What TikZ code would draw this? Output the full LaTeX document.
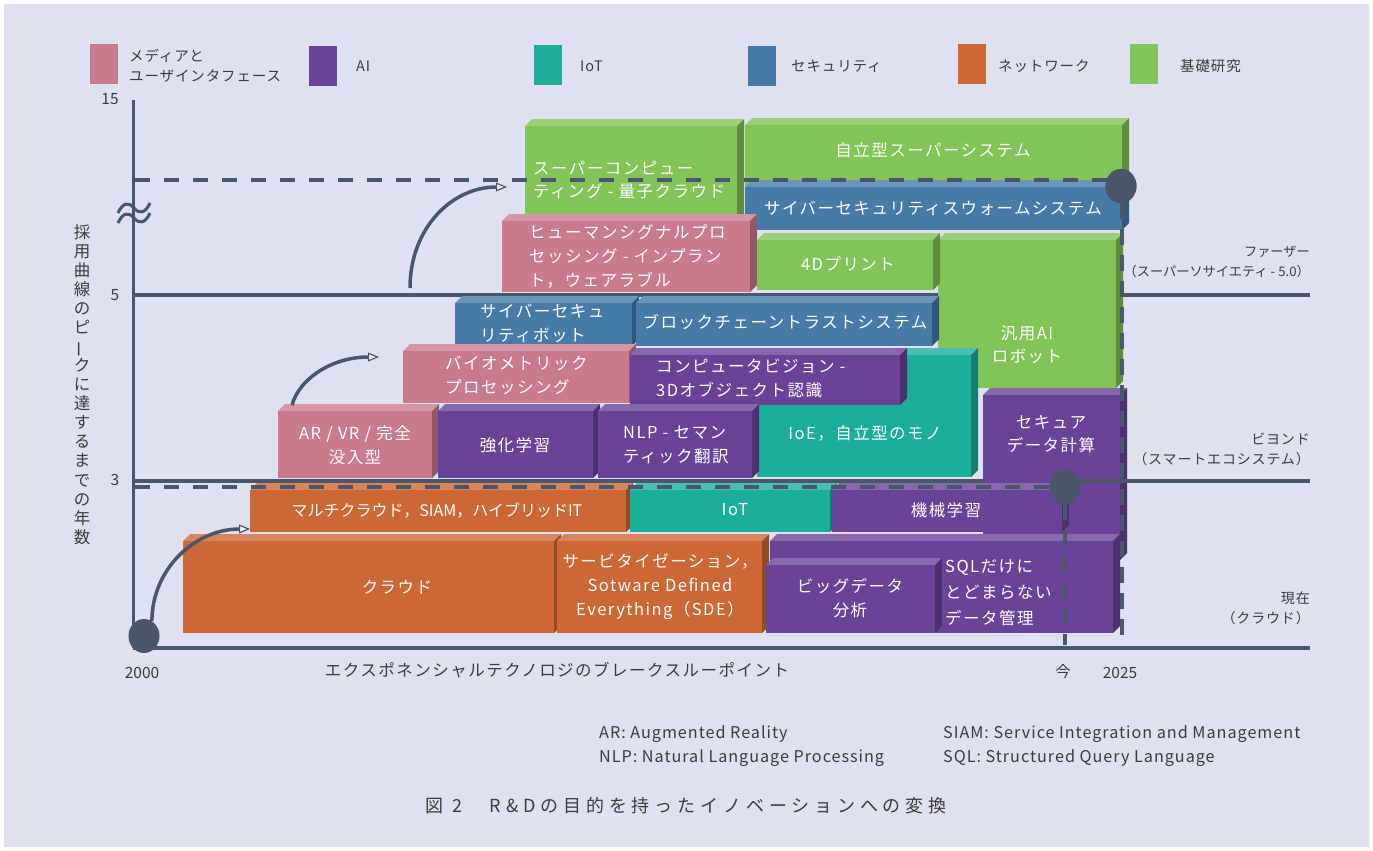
\documentclass[tikz,border=0pt]{standalone}
\usepackage{fontspec}
\usepackage{graphicx}
\setmainfont{Noto Sans CJK JP}[LetterSpace=6]
\newfontfamily\bfont{Noto Sans CJK JP}[LetterSpace=9]
\newfontfamily\tfont{Noto Sans CJK JP}
\newfontfamily\capfont{Noto Sans CJK JP}[LetterSpace=27]
\usetikzlibrary{arrows.meta,shapes.geometric}
\definecolor{bg}{RGB}{223,225,240}
\definecolor{cpink}{RGB}{201,123,142}
\definecolor{cpurple}{RGB}{104,67,152}
\definecolor{cteal}{RGB}{28,174,157}
\definecolor{cblue}{RGB}{72,122,168}
\definecolor{corange}{RGB}{204,104,53}
\definecolor{cgreen}{RGB}{130,196,88}
\definecolor{cline}{RGB}{74,86,105}
\definecolor{ctext}{RGB}{60,60,60}
\def\dep{7}
\newcommand{\blk}[6]{%
  \fill[#2!80!white] (#3,#4) -- ({#3+\dep},{#4-\dep}) -- ({#5+\dep},{#4-\dep}) -- (#5,#4) -- cycle;
  \fill[#2!72!black] (#5,#4) -- ({#5+\dep},{#4-\dep}) -- ({#5+\dep},{#6-\dep}) -- (#5,#6) -- cycle;
  \node[fill=#2, draw=none, inner sep=0pt, outer sep=0pt, minimum width={(#5-#3)*1pt}, minimum height={(#6-#4)*1pt}] (#1) at ({(#3+#5)/2},{(#4+#6)/2}) {};
}
\tikzset{
  btext/.style={text=white, font={\bfont\fontsize{16.5}{24}\selectfont}, inner sep=0pt, align=center},
  bltext/.style={btext, align=left, anchor=west},
  lab/.style={text=ctext, inner sep=0pt, font={\fontsize{15}{18}\selectfont}},
  numlab/.style={text=ctext, inner sep=0pt, font={\tfont\fontsize{15.5}{18}\selectfont}},
  rlab/.style={text=ctext, inner sep=0pt, anchor=east, align=right, font={\fontsize{14}{20}\selectfont}},
  axisline/.style={cline, line width=4pt},
  hdash/.style={cline, line width=4pt, dash pattern=on 15pt off 14pt},
  vdash/.style={cline, line width=3.5pt, dash pattern=on 16pt off 10pt},
  arr/.style={cline, line width=3.5pt, -{Triangle[length=11pt,width=9pt,fill=bg!40!white,line width=1.2pt]}},
  dot/.style={ellipse, fill=cline, minimum width=31pt, minimum height=34pt, inner sep=0pt},
  legbox/.style={minimum width=28pt, minimum height=39pt, inner sep=0pt},
}
\begin{document}
\begin{tikzpicture}[x=1pt,y=-1pt]
\useasboundingbox (0,0) rectangle (1373,851);
\fill[white] (0,0) rectangle (1373,851);
\fill[bg] (4,4) rectangle (1369,847);

% legend
\node[legbox, fill=cpink] (lg1) at (104,64) {};
\node[lab, anchor=west, align=left, font={\fontsize{14.5}{20.5}\selectfont}] (lg1t) at (129,66) {メディアと\\ユーザインタフェース};
\node[legbox, fill=cpurple] (lg2) at (323,66) {};
\node[lab, anchor=west, font={\fontsize{14.5}{18}\selectfont}] (lg2t) at (356,66) {AI};
\node[legbox, fill=cteal] (lg3) at (548,65) {};
\node[lab, anchor=west, font={\fontsize{14.5}{18}\selectfont}] (lg3t) at (580,66) {IoT};
\node[legbox, fill=cblue] (lg4) at (762,66) {};
\node[lab, anchor=west, font={\fontsize{14.5}{18}\selectfont}] (lg4t) at (791,66) {セキュリティ};
\node[legbox, fill=corange] (lg5) at (972,64) {};
\node[lab, anchor=west, font={\fontsize{14.5}{18}\selectfont}] (lg5t) at (998,66) {ネットワーク};
\node[legbox, fill=cgreen] (lg6) at (1144,64) {};
\node[lab, anchor=west, font={\fontsize{14.5}{18}\selectfont}] (lg6t) at (1180,66) {基礎研究};

% axes and level lines (behind blocks)
\coordinate (ax0) at (133,648);
\coordinate (axtop) at (133,100);
\coordinate (axend) at (1310,648);
\coordinate (l5s) at (133,295);
\coordinate (l5e) at (1310,295);
\coordinate (l3s) at (133,481);
\coordinate (l3e) at (1310,481);
\draw[cline, line width=3pt] (axtop) -- (ax0);
\draw[axisline] (ax0) -- (axend);
\draw[axisline] (l5s) -- (l5e);
\draw[axisline] (l3s) -- (l3e);
% break mark
\draw[cline, line width=3pt] (118,213) .. controls (123,202) and (129,202) .. (134,208) .. controls (139,214) and (145,214) .. (150,203);
\draw[cline, line width=3pt] (118,223) .. controls (123,212) and (129,212) .. (134,218) .. controls (139,224) and (145,224) .. (150,213);

% blocks, back to front
\blk{sc}{cgreen}{525}{126}{737}{222}
\blk{jiritsu}{cgreen}{745}{125}{1122}{186}
\blk{swarm}{cblue}{745}{187}{1122}{230}
\blk{human}{cpink}{502}{221}{750}{292}
\blk{hanyo}{cgreen}{938}{240}{1116}{388}
\blk{fourd}{cgreen}{757}{240}{933}{290}
\blk{cbot}{cblue}{455}{303}{632}{346}
\blk{bchain}{cblue}{636}{303}{932}{346}
\blk{secure}{cpurple}{983}{395}{1120}{560}
\blk{ioe}{cteal}{757}{355}{971}{477}
\blk{bio}{cpink}{403}{351}{629}{403}
\blk{cv}{cpurple}{630}{355}{900}{405}
\blk{ar}{cpink}{278}{411}{432}{478}
\blk{kyoka}{cpurple}{438}{411}{593}{478}
\blk{nlp}{cpurple}{598}{411}{752}{478}
\blk{multi}{corange}{250}{490}{626}{532}
\blk{iot}{cteal}{630}{490}{830}{532}
\blk{ml}{cpurple}{832}{490}{1062}{532}
\blk{cloud}{corange}{183}{541}{554}{633}
\blk{servi}{corange}{557}{541}{762}{633}
\blk{sql}{cpurple}{770}{541}{1113}{633}
\blk{bigdata}{cpurple}{766}{565}{935}{633}

% block texts
\node[bltext] (sc-t) at (533,180) {スーパーコンピュー\\ティング - 量子クラウド};
\node[btext] (jiritsu-t) at (933,150) {自立型スーパーシステム};
\node[btext] (swarm-t) at (933,208) {サイバーセキュリティスウォームシステム};
\node[bltext] (human-t) at (529,256) {ヒューマンシグナルプロ\\セッシング - インプラン\\ト，ウェアラブル};
\node[btext] (fourd-t) at (848,264) {4Dプリント};
\node[btext, font={\bfont\fontsize{16.5}{23}\selectfont}] (hanyo-t) at (1027,345) {汎用AI\\ロボット};
\node[bltext] (cbot-t) at (480,323) {サイバーセキュ\\リティボット};
\node[btext] (bchain-t) at (785,322) {ブロックチェーントラストシステム};
\node[btext, font={\bfont\fontsize{16.5}{23}\selectfont}] (secure-t) at (1051,434) {セキュア\\データ計算};
\node[btext] (ioe-t) at (865,433) {IoE，自立型のモノ};
\node[bltext] (bio-t) at (445,375) {バイオメトリック\\プロセッシング};
\node[bltext] (cv-t) at (656,378) {コンピュータビジョン -\\3Dオブジェクト認識};
\node[btext] (ar-t) at (355,445) {AR / VR / 完全\\没入型};
\node[btext] (kyoka-t) at (515,445) {強化学習};
\node[bltext] (nlp-t) at (623,445) {NLP - セマン\\ティック翻訳};
\node[btext, font={\tfont\fontsize{16}{24}\selectfont}] (multi-t) at (437,510) {マルチクラウド，SIAM，ハイブリッドIT};
\node[btext] (iot-t) at (735,510) {IoT};
\node[btext] (ml-t) at (946,510) {機械学習};
\node[btext] (cloud-t) at (397,587) {クラウド};
\node[btext] (servi-t) at (660,587) {サービタイゼーション，\\Sotware Defined\\Everything（SDE）};
\node[btext] (bigdata-t) at (850,598) {ビッグデータ\\分析};
\node[bltext, font={\bfont\fontsize{16.5}{26}\selectfont}] (sql-t) at (945,593) {SQLだけに\\とどまらない\\データ管理};

% circles
\node[dot] (c2000) at (144,636) {};
\node[dot] (cnow) at (1065,487) {};
\node[dot] (ctop) at (1121,186) {};

% dashed lines (on top)
\coordinate (hd1s) at (135,180);
\coordinate (hd1e) at (1110,180);
\coordinate (hd2s) at (135,487);
\coordinate (hd2e) at (1052,487);
\coordinate (vd1e) at (1065,645);
\coordinate (vd2e) at (1122,643);
\coordinate (l3m) at (1075,481);
\draw[hdash] (hd1s) -- (hd1e);
\draw[hdash] (hd2s) -- (hd2e);
\draw[vdash] (cnow.south) -- (vd1e);
\draw[vdash] (ctop.south -| vd2e) -- (vd2e);
\draw[axisline] (l3m) -- (l3e);
\node[dot] at (cnow) {};
\node[dot] at (ctop) {};

% arrows
\coordinate (a1s) at (410,288);
\coordinate (a1e) at (507,187);
\coordinate (a2s) at (292,405);
\coordinate (a2e) at (379,357);
\coordinate (a3e) at (250,529);
\draw[arr] (a1s) .. controls (410,228) and (452,187) .. (a1e);
\draw[arr] (a2s) .. controls (300,377) and (334,357) .. (a2e);
\draw[arr] (c2000.62) .. controls (152,568) and (196,529) .. (a3e);

% axis labels
\node[numlab] (y15) at (110,99) {15};
\node[numlab] (y5) at (115,295) {5};
\node[numlab] (y3) at (115,480) {3};
\node[numlab] (x2000) at (142,673) {2000};
\node[numlab] (xnow) at (1063,672) {今};
\node[numlab] (x2025) at (1120,673) {2025};
\node[lab, font={\bfont\fontsize{16.5}{18}\selectfont}] (xlab) at (557,670) {エクスポネンシャルテクノロジのブレークスルーポイント};
\node[lab, align=center, font={\fontsize{16.5}{19.06}\selectfont}] (ylab) at (82,384.5) {採\\用\\曲\\線\\の\\ピ\\\smash{\rotatebox[origin=c]{90}{ー}}\\ク\\に\\達\\す\\る\\ま\\で\\の\\年\\数};

% right labels
\node[rlab, font={\tfont\fontsize{13.2}{20}\selectfont}] (far) at (1310,262) {ファーザー\\（スーパーソサイエティ - 5.0）};
\node[rlab] (beyond) at (1310,449) {ビヨンド\\（スマートエコシステム）};
\node[rlab] (now) at (1310,608) {現在\\（クラウド）};

% abbreviations
\node[lab, anchor=west, align=left, font={\fontsize{16.2}{24.5}\selectfont}] (abbr1) at (599,746) {AR: Augmented Reality\\NLP: Natural Language Processing};
\node[lab, anchor=west, align=left, font={\fontsize{16.2}{24.5}\selectfont}] (abbr2) at (943,746) {SIAM: Service Integration and Management\\SQL: Structured Query Language};

% caption
\node[lab, anchor=west, font={\capfont\fontsize{18}{22}\selectfont}] (cap) at (425,806) {図 2　R\&Dの目的を持ったイノベーションへの変換};
\end{tikzpicture}
\end{document}
